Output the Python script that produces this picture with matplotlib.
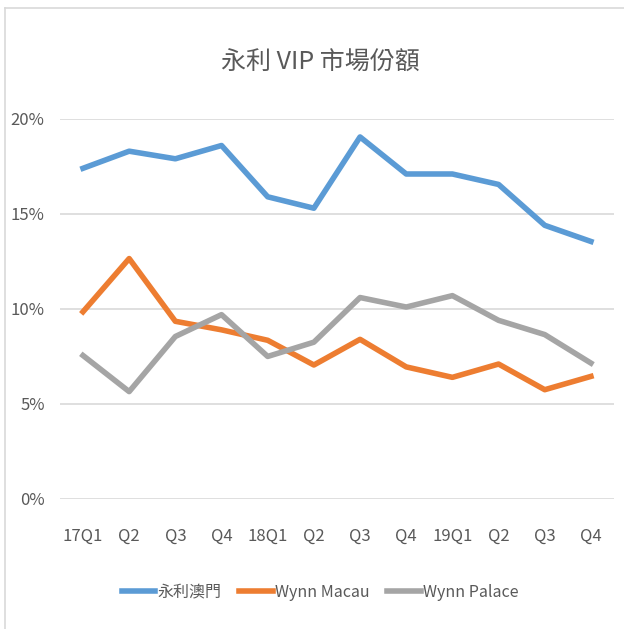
# libraries
import matplotlib
matplotlib.use("Agg")
import matplotlib.pyplot as plt
from matplotlib.lines import Line2D
from matplotlib.ticker import PercentFormatter

# font: CJK family first so the Chinese text renders
plt.rcParams['font.family'] = ['Noto Sans CJK TC', 'DejaVu Sans']

# quarters on the x axis
quarters = ["17Q1", "Q2", "Q3", "Q4", "18Q1", "Q2", "Q3", "Q4", "19Q1", "Q2", "Q3", "Q4"]

# VIP market share, in %
wynn_macau_total = [17.4, 18.3, 17.9, 18.6, 15.9, 15.3, 19.05, 17.1, 17.1, 16.55, 14.4, 13.55]
wynn_macau = [9.85, 12.65, 9.35, 8.9, 8.35, 7.05, 8.4, 6.95, 6.4, 7.1, 5.75, 6.45]
wynn_palace = [7.55, 5.65, 8.55, 9.7, 7.5, 8.25, 10.6, 10.1, 10.7, 9.4, 8.65, 7.15]

series_names = ["永利澳門", "Wynn Macau", "Wynn Palace"]
colors = ['#5B9BD5', '#ED7D31', '#A5A5A5']
text_color = '#595959'
grid_color = '#D9D9D9'

fig = plt.figure(figsize=(6.24, 6.29), dpi=100)
ax = fig.add_axes([0.096, 0.2067, 0.888, 0.6043])

x = range(len(quarters))
for vals, name, c in zip([wynn_macau_total, wynn_macau, wynn_palace], series_names, colors):
    ax.plot(x, vals, color=c, lw=4, label=name, solid_joinstyle='round')

# axes
ax.set_xlim(-0.5, len(quarters) - 0.5)
ax.set_ylim(0, 20)
ax.set_yticks([0, 5, 10, 15, 20])
ax.yaxis.set_major_formatter(PercentFormatter(decimals=0))
ax.set_xticks(list(x))
ax.set_xticklabels(quarters)
ax.tick_params(axis='both', length=0, labelsize=12, colors=text_color)
ax.tick_params(axis='x', pad=21)
ax.tick_params(axis='y', pad=11)
ax.grid(axis='y', color=grid_color, lw=1.2)
ax.set_axisbelow(True)
for s in ax.spines.values():
    s.set_visible(False)

# title
fig.text(0.513, 0.90, "永利 VIP 市場份額", ha='center', va='center',
         fontsize=18, fontweight='light', color=text_color)

# legend
ax.legend(loc='center', bbox_to_anchor=(0.47, -0.245), ncol=3, frameon=False,
          fontsize=11.5, handlelength=2.1, handletextpad=0.15, columnspacing=1.1,
          labelcolor=text_color)

# chart border (left and top edges visible)
fig.add_artist(Line2D([5 / 624, 5 / 624], [0, 1 - 8 / 629], color=grid_color, lw=1.2))
fig.add_artist(Line2D([5 / 624, 1], [1 - 8 / 629, 1 - 8 / 629], color=grid_color, lw=1.2))

fig.savefig("out.png", dpi=100, facecolor='white')
